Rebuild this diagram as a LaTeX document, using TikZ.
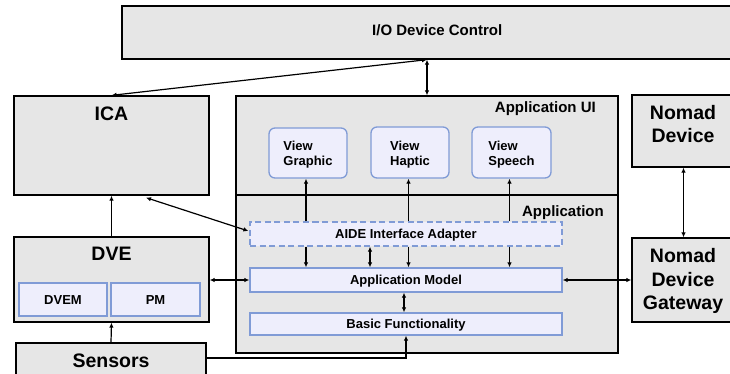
\documentclass[tikz,border=0pt]{standalone}
\usepackage{fontspec}
\setmainfont{Liberation Sans}
\usetikzlibrary{arrows.meta,fit,calc}
\definecolor{gfill}{RGB}{230,230,230}
\definecolor{bfill}{RGB}{238,238,252}
\definecolor{bline}{RGB}{128,155,214}
\begin{document}
\begin{tikzpicture}[x=1bp,y=-1bp,
  gbox/.style={draw=black, fill=gfill, line width=1.3bp, inner sep=0pt},
  bbox/.style={draw=bline, fill=bfill, line width=1.3bp, inner sep=0pt},
  big/.style={font=\bfseries\fontsize{19.5bp}{23.4bp}\selectfont, align=center, inner sep=0pt},
  mid/.style={font=\bfseries\fontsize{15bp}{18bp}\selectfont, inner sep=0pt},
  sml/.style={font=\bfseries\fontsize{13bp}{15bp}\selectfont, inner sep=0pt},
  conn/.style={line width=1.2bp, -{Latex[length=5bp,width=4.5bp]}},
  conn2/.style={line width=1.2bp, {Latex[length=5bp,width=4.5bp]}-{Latex[length=5bp,width=4.5bp]}},
]
\clip (0,0) rectangle (730,373);

% I/O Device Control
\node[gbox, fit={(122,6) (760,59)}] (io) {};
\node[mid, anchor=base west] (iot) at (372,35) {I/O Device Control};

% ICA
\node[gbox, fit={(14,96) (209,195)}] (ica) {};
\node[big, anchor=base] (icat) at (111.5,120) {ICA};

% Application UI / Application
\node[gbox, fit={(236,96) (618,353)}] (app) {};
\draw[line width=1.3bp] (236,195) -- (618,195);
\node[mid, anchor=base east] (uit) at (596,112.5) {Application UI};
\node[mid, anchor=base east] (appt) at (604,216) {Application};

% Views
\node[bbox, rounded corners=6bp, fit={(269,128) (347,178)}] (vg) {};
\node[sml, align=left] (vgt) at (308,155) {View\\Graphic};
\node[bbox, rounded corners=6bp, fit={(371,127) (449,178)}] (vh) {};
\node[sml, align=left] (vht) at (410,155) {View\\Haptic};
\node[bbox, rounded corners=6bp, fit={(472,127) (551,178)}] (vs) {};
\node[sml, align=left] (vst) at (511.5,155) {View\\Speech};

% AIDE, Application Model, Basic Functionality
\node[bbox, dash pattern=on 6bp off 3.5bp, fit={(250,222) (562,246)}] (aide) {};
\node[sml, anchor=base] (aidet) at (406,238.3) {AIDE Interface Adapter};
\node[bbox, fit={(250,268) (562,292)}] (am) {};
\node[sml, anchor=base] (amt) at (406,284.5) {Application Model};
\node[bbox, fit={(250,313) (562,335)}] (bf) {};
\node[sml, anchor=base] (bft) at (406,328.5) {Basic Functionality};

% DVE
\node[gbox, fit={(14,237) (209,322)}] (dve) {};
\node[big, anchor=base] (dvet) at (111.5,260.7) {DVE};
\node[bbox, fit={(19,283) (107,316)}] (dvem) {};
\node[sml, anchor=base] (dvemt) at (63,304) {DVEM};
\node[bbox, fit={(111,283) (200,316)}] (pm) {};
\node[sml, anchor=base] (pmt) at (155.5,304) {PM};

% Sensors
\node[gbox, fit={(16,343) (206,400)}] (sen) {};
\node[big, anchor=base] (sent) at (111,367) {Sensors};

% Nomad
\node[gbox, fit={(632,95) (735,167)}] (nd) {};
\node[big] (ndt) at (683,124) {Nomad\\Device};
\node[gbox, fit={(632,238) (735,322)}] (gw) {};
\node[big] (gwt) at (683,281) {Nomad\\Device\\Gateway};

% helper coordinates
\coordinate (xa) at ($(vg.south)+(-2,0)$);
\coordinate (xb) at ($(vh.south)+(-1.5,0)$);
\coordinate (xc) at ($(vs.south)+(-2,0)$);
\coordinate (xd) at (370,0);
\coordinate (xe) at (404,0);
\coordinate (xf) at (406,0);
\coordinate (ys) at (0,358);
\coordinate (icap) at ($(ica.south)+(34.5,2)$);
\coordinate (aidep) at ($(aide.west)+(-1,-3)$);

% connectors
\draw[conn2] (io.south -| app.north) -- (ica.north);
\draw[conn2] (io.south -| app.north) -- (app.north);
\draw[conn] (dve.north) -- (ica.south);
\draw[conn] (sen.north) -- (dve.south);
\draw[conn2] (icap) -- (aidep);
\draw[conn2] (dve.east |- am.west) -- (am.west);
\draw[conn2] (am.east) -- (am.east -| gw.west);
\draw[conn2] (nd.south) -- (gw.north);
\draw[conn] (aide.north -| xa) -- (xa);
\draw[conn] (aide.north -| xb) -- (xb);
\draw[conn] (aide.north -| xc) -- (xc);
\draw[conn] (aide.south -| xa) -- (am.north -| xa);
\draw[conn] (aide.south -| xb) -- (am.north -| xb);
\draw[conn] (aide.south -| xc) -- (am.north -| xc);
\draw[conn2] (aide.south -| xd) -- (am.north -| xd);
\draw[conn2] (am.south -| xe) -- (bf.north -| xe);
\draw[conn] (sen.east |- ys) -| (bf.south -| xf);
\end{tikzpicture}
\end{document}
